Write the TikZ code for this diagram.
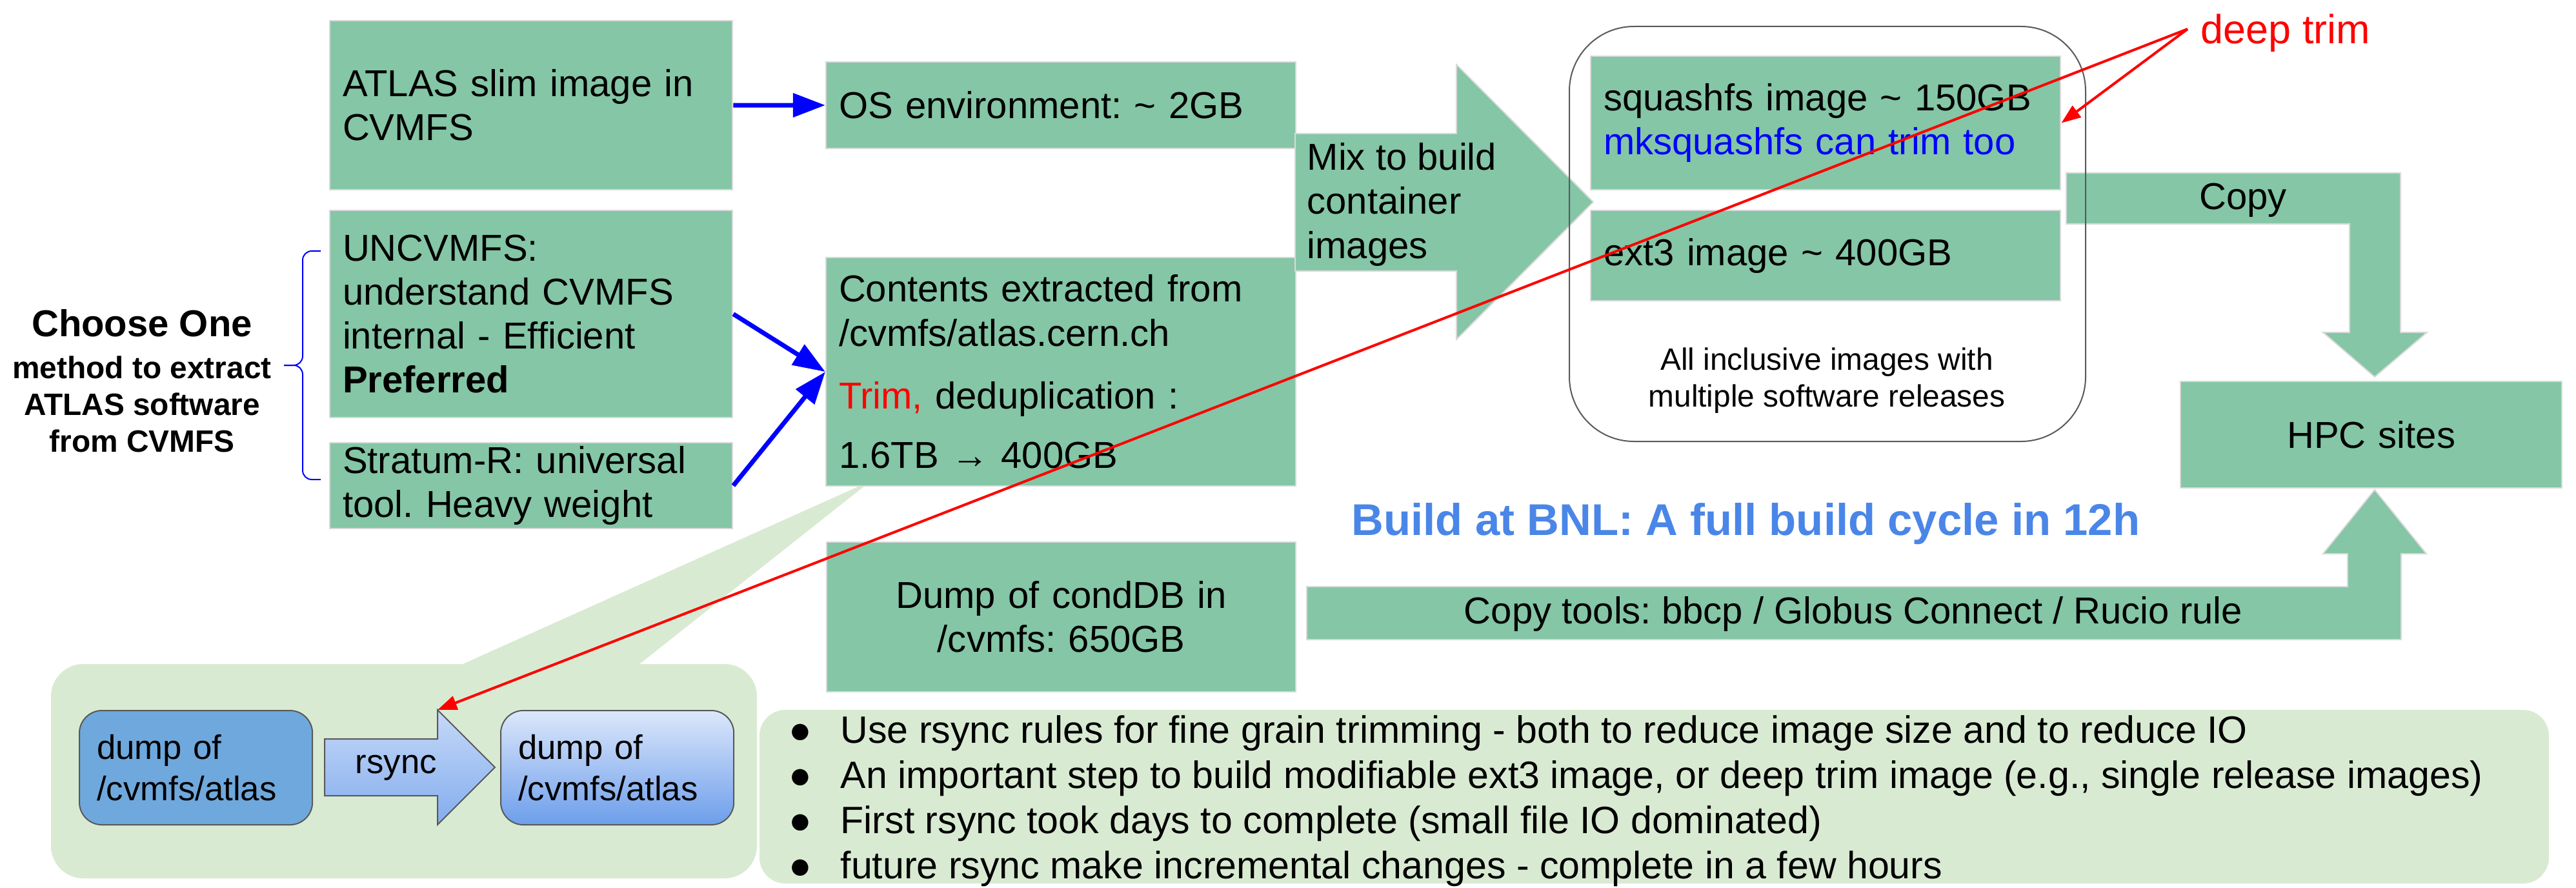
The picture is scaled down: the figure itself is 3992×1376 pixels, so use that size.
\documentclass[tikz,border=0pt]{standalone}
\usepackage{fontspec}
\setmainfont{Liberation Sans}
\usetikzlibrary{arrows.meta}
\definecolor{boxgreen}{RGB}{132,198,166}
\definecolor{palegreen}{HTML}{D9EAD3}
\definecolor{boxedge}{HTML}{D9D9D9}
\definecolor{dumpblue}{HTML}{6FA8DC}
\definecolor{fadeblue}{HTML}{DCE7FB}
\definecolor{deepblue}{HTML}{6D9EEB}
\definecolor{titleblue}{HTML}{4A86E8}
\definecolor{framegray}{HTML}{595959}
\newcommand{\boxfnt}{\fontsize{16.5}{19.4}\selectfont}
\newcommand{\subfnt}{\fontsize{13.6}{16.2}\selectfont}
\newcommand{\dumpfnt}{\fontsize{15}{18.2}\selectfont}
\newcommand{\notefnt}{\fontsize{16.8}{19.9}\selectfont}
\newcommand{\titlefnt}{\fontsize{19.6}{23.5}\selectfont}
\newcommand{\trimfnt}{\fontsize{17.9}{21.5}\selectfont}
\frenchspacing
\begin{document}
\begin{tikzpicture}[x=0.01cm,y=-0.01cm,
  gbox/.style={rectangle,fill=boxgreen,draw=boxedge,line width=0.02cm,anchor=north west,inner xsep=0.2cm,inner ysep=0.05cm,align=left,font=\boxfnt},
  dbox/.style={rectangle,rounded corners=0.35cm,draw=framegray,line width=0.02cm,anchor=north west,minimum width=3.61cm,minimum height=1.77cm,text width=3.07cm,inner xsep=0.27cm,align=left,font=\dumpfnt},
  bigarrow/.style={fill=boxgreen,draw=boxedge,line width=0.02cm},
  blueline/.style={blue,line width=0.07cm,-{Triangle[length=0.5cm,width=0.36cm]}},
  redline/.style={red,line width=0.04cm,-{Triangle[length=0.3cm,width=0.22cm]}}]
\useasboundingbox (0,0) rectangle (3992,1376);
\fill[palegreen] (717,1029) -- (1350,745) -- (991,1029) -- cycle;
\fill[palegreen,rounded corners=0.5cm] (79,1029) rectangle (1173,1361);
\fill[palegreen,rounded corners=0.4cm] (1177,1100) rectangle (3950,1369);
\node[gbox,text width=5.84cm,minimum height=2.62cm] (slim) at (510,31) {ATLAS slim image in\\CVMFS};
\node[gbox,text width=5.84cm,minimum height=3.21cm] (unc) at (510,325) {UNCVMFS:\\understand CVMFS\\internal - Efficient\\\textbf{Preferred}};
\node[gbox,text width=5.84cm,minimum height=1.33cm] (strat) at (510,685) {Stratum-R: universal\\tool. Heavy weight};
\node[gbox,text width=6.88cm,minimum height=1.34cm] (os) at (1279,95) {OS environment: \textasciitilde{} 2GB};
\node[gbox,text width=6.88cm,minimum height=3.54cm] (cont) at (1279,398) {Contents extracted from\\/cvmfs/atlas.cern.ch\\[0.29cm]\textcolor{red}{Trim,} deduplication :\\[0.24cm]1.6TB → 400GB};
\node[gbox,text width=6.87cm,minimum height=2.32cm,align=center] (cond) at (1280,839) {Dump of condDB in\\/cvmfs: 650GB};
\node[gbox,text width=6.88cm,minimum height=2.07cm] (squash) at (2464,86) {squashfs image \textasciitilde{} 150GB\\\textcolor{blue}{mksquashfs can trim too}};
\node[gbox,text width=6.88cm,minimum height=1.40cm] (ext) at (2464,325) {ext3 image \textasciitilde{} 400GB};
\node[gbox,text width=5.51cm,minimum height=1.65cm,align=center] (hpc) at (3378,590) {HPC sites};
\filldraw[bigarrow] (2007,207) -- (2257,207) -- (2257,100) -- (2469,313) -- (2257,526) -- (2257,420) -- (2007,420) -- cycle;
\node[anchor=west,align=left,inner sep=0,font=\boxfnt] (mix) at (2025,317) {Mix to build\\container\\images};
\filldraw[bigarrow] (3202,268) -- (3720,268) -- (3720,515) -- (3761,515) -- (3680,584) -- (3600,515) -- (3641,515) -- (3641,347) -- (3202,347) -- cycle;
\node[font=\boxfnt,inner sep=0] (copy) at (3476,310) {Copy};
\filldraw[bigarrow] (2025,909) -- (3638,909) -- (3638,858) -- (3600,858) -- (3680,759) -- (3760,858) -- (3721,858) -- (3721,991) -- (2025,991) -- cycle;
\node[font=\boxfnt,inner sep=0] (tools) at (2872,951) {Copy tools: bbcp / Globus Connect / Rucio rule};
\draw[framegray,line width=0.02cm,rounded corners=1cm] (2432,41) rectangle (3232,684);
\node[align=center,font=\subfnt,inner sep=0] (incl) at (2831,590) {All inclusive images with\\multiple software releases};
\node[align=center,font=\bfseries\subfnt,inner sep=0] (choose) at (220,590) {{\boxfnt Choose One}\\[0.08cm]method to extract\\ATLAS software\\from CVMFS};
\draw[blue,line width=0.02cm,rounded corners=0.14cm] (497,389) -- (469,389) -- (469,566) -- (440,566);
\draw[blue,line width=0.02cm,rounded corners=0.14cm] (440,566) -- (469,566) -- (469,743) -- (497,743);
\draw[blueline] (slim.east) -- (os.west);
\draw[blueline] (unc.east) -- (cont.west);
\draw[blueline] (strat.east) -- (cont.west);
\node[anchor=west,inner sep=0,font=\bfseries\titlefnt,text=titleblue] (bnl) at (2094,812) {Build at BNL: A full build cycle in 12h};
\node[dbox,fill=dumpblue] (dumpa) at (122,1100) {dump of\\/cvmfs/atlas};
\node[dbox,top color=fadeblue,bottom color=deepblue] (dumpb) at (775,1100) {dump of\\/cvmfs/atlas};
\shadedraw[top color=fadeblue!80!deepblue,bottom color=deepblue!85!white,draw=framegray,line width=0.02cm] (503,1145) -- (678,1145) -- (678,1100) -- (767,1189) -- (678,1278) -- (678,1233) -- (503,1233) -- cycle;
\coordinate (rsynctip) at (678,1100);
\node[font=\dumpfnt,inner sep=0] (rsync) at (614,1190) {rsync};
\node[anchor=north west,align=left,inner sep=0,font=\notefnt] (notes) at (1222,1108) {\makebox[0.8cm][l]{●}Use rsync rules for fine grain trimming - both to reduce image size and to reduce IO\\
\makebox[0.8cm][l]{●}An important step to build modifiable ext3 image, or deep trim image (e.g., single release images)\\
\makebox[0.8cm][l]{●}First rsync took days to complete (small file IO dominated)\\
\makebox[0.8cm][l]{●}future rsync make incremental changes - complete in a few hours};
\node[anchor=west,inner sep=0,font=\trimfnt,text=red] (trim) at (3410,51) {deep trim};
\coordinate (trimfrom) at (3390,45);
\draw[redline] (trimfrom) -- (squash.east);
\draw[redline] (trimfrom) -- (rsynctip);
\end{tikzpicture}
\end{document}
